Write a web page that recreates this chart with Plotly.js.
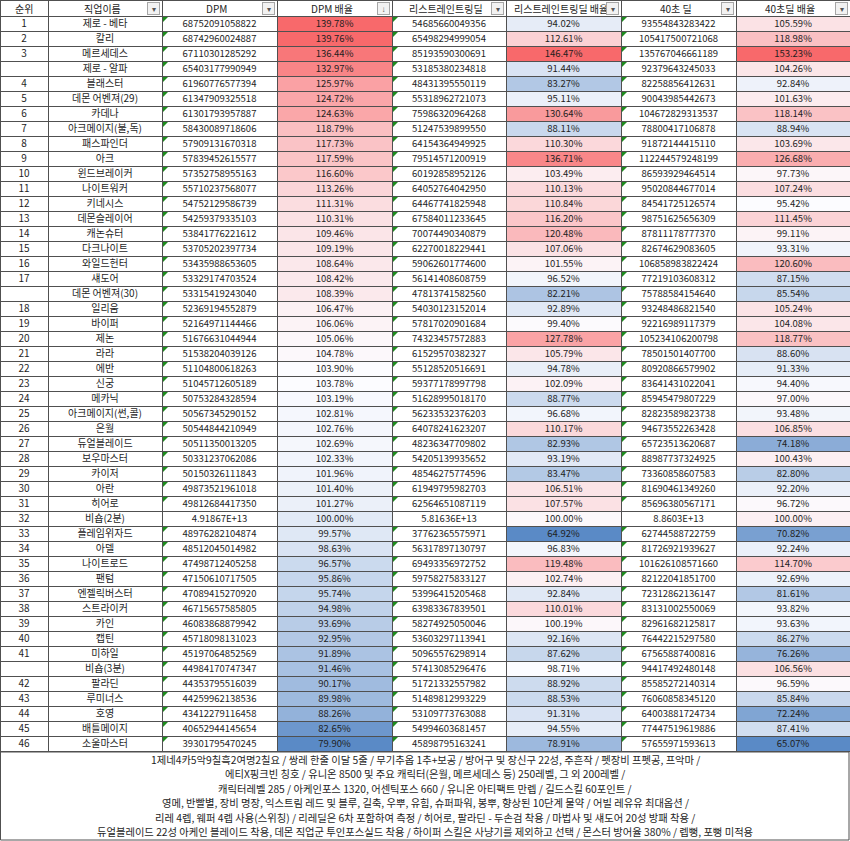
<!DOCTYPE html>
<html>
<head>
<meta charset="utf-8">
<script src="https://cdn.plot.ly/plotly-3.0.1.min.js"></script>
<style>html,body{margin:0;padding:0;background:#fff;}#chart{width:850px;height:841px;}</style>
</head>
<body>
<div id="chart"></div>
<script>
const headers = ["순위","직업이름","DPM","DPM 배율","리스트레인트링딜","리스트레인트링딜 배율","40초 딜","40초딜 배율"];
const ranks = ["1","2","3","","4","5","6","7","8","9","10","11","12","13","14","15","16","17","","18","19","20","21","22","23","24","25","26","27","28","29","30","31","32","33","34","35","36","37","38","39","40","41","","42","43","44","45","46"];
const jobs = ["제로 - 베타","칼리","메르세데스","제로 - 알파","블래스터","데몬 어벤져(29)","카데나","아크메이지(불,독)","패스파인더","아크","윈드브레이커","나이트워커","키네시스","데몬슬레이어","캐논슈터","다크나이트","와일드헌터","섀도어","데몬 어벤져(30)","일리움","바이퍼","제논","라라","에반","신궁","메카닉","아크메이지(썬,콜)","은월","듀얼블레이드","보우마스터","카이저","아란","히어로","비숍(2분)","플레임위자드","아델","나이트로드","팬텀","엔젤릭버스터","스트라이커","카인","캡틴","미하일","비숍(3분)","팔라딘","루미너스","호영","배틀메이지","소울마스터"];
const dpm = ["68752091058822","68742960024887","67110301285292","65403177990949","61960776577394","61347909325518","61301793957887","58430089718606","57909131670318","57839452615577","57352758955163","55710237568077","54752129586739","54259379335103","53841776221612","53705202397734","53435988653605","53329174703524","53315419243040","52369194552879","52164971144466","51676631044944","51538204039126","51104800618263","51045712605189","50753284328594","50567345290152","50544844210949","50511350013205","50331237062086","50150326111843","49873521961018","49812684417350","4.91867E+13","48976282104874","48512045014982","47498712405258","47150610717505","47089415270920","46715657585805","46083868879942","45718098131023","45197064852569","44984170747347","44353795516039","44259962138536","43412279116458","40652944145654","39301795470245"];
const dpmRatio = [139.78,139.76,136.44,132.97,125.97,124.72,124.63,118.79,117.73,117.59,116.60,113.26,111.31,110.31,109.46,109.19,108.64,108.42,108.39,106.47,106.06,105.06,104.78,103.90,103.78,103.19,102.81,102.76,102.69,102.33,101.96,101.40,101.27,100.00,99.57,98.63,96.57,95.86,95.74,94.98,93.69,92.95,91.89,91.46,90.17,89.98,88.26,82.65,79.90];
const restraint = ["54685660049356","65498294999054","85193590300691","53185380234818","48431395550119","55318962721073","75986320964268","51247539899550","64154364949925","79514571200919","60192858952126","64052764042950","64467741825948","67584011233645","70074490340879","62270018229441","59062601774600","56141408608759","47813741582560","54030123152014","57817020901684","74323457572883","61529570382327","55128520516691","59377178997798","51628995018170","56233532376203","64078241623207","48236347709802","54205139935652","48546275774596","61949795982703","62564651087119","5.81636E+13","37762365575971","56317897130797","69493356972752","59758275833127","53996415205468","63983367839501","58274925050046","53603297113941","50965576298914","57413085296476","51721332557982","51489812993229","53109773763088","54994603681457","45898795163241"];
const restraintRatio = [94.02,112.61,146.47,91.44,83.27,95.11,130.64,88.11,110.30,136.71,103.49,110.13,110.84,116.20,120.48,107.06,101.55,96.52,82.21,92.89,99.40,127.78,105.79,94.78,102.09,88.77,96.68,110.17,82.93,93.19,83.47,106.51,107.57,100.00,64.92,96.83,119.48,102.74,92.84,110.01,100.19,92.16,87.62,98.71,88.92,88.53,91.31,94.55,78.91];
const deal40 = ["93554843283422","105417500721068","135767046661189","92379643245033","82258856412631","90043985442673","104672829313537","78800417106878","91872144415110","112244579248199","86593929464514","95020844677014","84541725126574","98751625656309","87811178777370","82674629083605","106858983822424","77219103608312","75788584154640","93248486821540","92216989117379","105234106200798","78501501407700","80920866579902","83641431022041","85945479807229","82823589823738","94673552263428","65723513620687","88987737324925","73360858607583","81690461349260","85696380567171","8.8603E+13","62744588722759","81726921939627","101626108571660","82122041851700","72312862136147","83131002550069","82961682125817","76442215297580","67565887400816","94417492480148","85585272140314","76060858345120","64003881724734","77447519619886","57655971593613"];
const deal40Ratio = [105.59,118.98,153.23,104.26,92.84,101.63,118.14,88.94,103.69,126.68,97.73,107.24,95.42,111.45,99.11,93.31,120.60,87.15,85.54,105.24,104.08,118.77,88.60,91.33,94.40,97.00,93.48,106.85,74.18,100.43,82.80,92.20,96.72,100.00,70.82,92.24,114.70,92.69,81.61,93.82,93.63,86.27,76.26,106.56,96.59,85.84,72.24,87.41,65.07];
const footerLines = [
 "1제네4카5악9칠흑2여명2칠요 / 쌍레 한줄 이달 5줄 / 무기추옵 1추+보공 / 방어구 및 장신구 22성, 주흔작 / 펫장비 프펫공, 프악마 /",
 "에티X핑크빈 칭호 / 유니온 8500 및 주요 캐릭터(은월, 메르세데스 등) 250레벨, 그 외 200레벨 /",
 "캐릭터레벨 285 / 아케인포스 1320, 어센틱포스 660 / 유니온 아티팩트 만렙 / 길드스킬 60포인트 /",
 "영메, 반빨별, 장비 명장, 익스트림 레드 및 블루, 길축, 우뿌, 유힘, 슈퍼파워, 봉뿌, 향상된 10단계 물약 / 어빌 레유유 최대옵션 /",
 "리레 4렙, 웨퍼 4렙 사용(스위칭) / 리레딜은 6차 포함하여 측정 / 히어로, 팔라딘 - 두손검 착용 / 마법사 및 섀도어 20성 방패 착용 /",
 "듀얼블레이드 22성 아케인 블레이드 착용, 데몬 직업군 투인포스실드 착용 / 하이퍼 스킬은 사냥기를 제외하고 선택 / 몬스터 방어율 380% / 렙뻥, 포뻥 미적용"
];

// Excel-style 3-colour scale (min blue, 50th percentile white, max red)
const RED=[248,105,107], WHITE=[252,252,255], BLUE=[90,138,198];
function scaleColors(vals){
  const s=[...vals].sort((a,b)=>a-b);
  const mn=s[0], mx=s[s.length-1], md=s[(s.length-1)/2|0];
  return vals.map(v=>{
    let c;
    if(v>=md){const t=mx===md?0:(v-md)/(mx-md); c=WHITE.map((w,i)=>Math.round(w+(RED[i]-w)*t));}
    else {const t=(md-v)/(md-mn); c=WHITE.map((w,i)=>Math.round(w+(BLUE[i]-w)*t));}
    return `rgb(${c[0]},${c[1]},${c[2]})`;
  });
}
const pct = a=>a.map(v=>v.toFixed(2)+"%");
const nb = a=>a.map(s=>s.replace(/ /g,"\u00a0"));
const n = jobs.length;
const white = Array(n).fill("#ffffff");
const blank = Array(n).fill("");

const W=850, H=841, HEAD=16, ROW=15, SHIFT=4.5;
const colW=[48,114,115,115,114,115,115,114];
const FONT="Noto Sans CJK KR, sans-serif";
const gridColor="#505050";
const columnsText=[ranks,nb(jobs),dpm,pct(dpmRatio),restraint,pct(restraintRatio),deal40,pct(deal40Ratio)];
const tableH = HEAD+ROW*n+6;
const data=[
{ // grid + fills
  type:"table",
  domain:{x:[0,1],y:[1-tableH/H,1]},
  columnwidth:colW,
  header:{values:headers.map(()=>""), height:HEAD, fill:{color:"#ffffff"}, line:{color:gridColor,width:1}},
  cells:{values:columnsText.map(()=>blank), height:ROW,
    fill:{color:[white,white,white,scaleColors(dpmRatio),white,scaleColors(restraintRatio),white,scaleColors(deal40Ratio)]},
    line:{color:gridColor,width:1}}
},
{ // text layer, lifted to sit centred in each row
  type:"table",
  domain:{x:[0,1],y:[1-tableH/H,1]},
  columnwidth:colW,
  header:{values:headers.map(()=>""), height:HEAD-SHIFT, fill:{color:"rgba(0,0,0,0)"}, line:{color:"rgba(0,0,0,0)",width:0}},
  cells:{values:columnsText, align:"center", height:ROW,
    fill:{color:"rgba(0,0,0,0)"}, line:{color:"rgba(0,0,0,0)",width:0},
    font:{family:FONT,size:[10,10,9.5,9.5,9.5,9.5,9.5,9.5],color:"#1e1e1e"}}
}];

const shapes=[], annotations=[];
const px=x=>x/W, py=y=>1-y/H;
let edges=[0]; colW.forEach(w=>edges.push(edges[edges.length-1]+w));
// header labels
headers.forEach((h,c)=>{
  annotations.push({xref:"paper",yref:"paper",x:px((edges[c]+edges[c+1])/2-(c>0?3:0)),y:py(8.5),text:h.replace(/ /g,"\u00a0"),showarrow:false,
    xanchor:"center",yanchor:"middle",font:{family:FONT,size:10,color:"#1e1e1e"}});
});
// filter dropdown buttons in header
for(let c=1;c<8;c++){
  const r=edges[c+1]-2, l=r-13;
  annotations.push({xref:"paper",yref:"paper",x:px((l+r)/2),y:py(8.5),text:c===3?"↓":"▾",showarrow:false,
    width:11,height:11,bgcolor:"#f2f2f2",bordercolor:"#a6a6a6",borderwidth:1,borderpad:0,
    font:{size:8,color:"#555"},xanchor:"center",yanchor:"middle"});
}
// green "number stored as text" markers
[[2,dpm],[4,restraint],[6,deal40]].forEach(([c,src])=>{
  for(let i=0;i<n;i++){
    if(src[i].indexOf("E+")>=0) continue;
    const x0=edges[c]+1, y0=HEAD+ROW*i+1;
    shapes.push({type:"path",xref:"paper",yref:"paper",
      path:`M ${px(x0)},${py(y0)} L ${px(x0+5)},${py(y0)} L ${px(x0)},${py(y0+5)} Z`,
      fillcolor:"#1e8c1e",line:{width:0}});
  }
});
// footer box + lines
const tableBottom=HEAD+ROW*n+1;
shapes.push({type:"rect",xref:"paper",yref:"paper",x0:px(0.5),x1:px(849),y0:py(840),y1:py(tableBottom),line:{color:gridColor,width:1},fillcolor:"rgba(0,0,0,0)"});
const footerY=[759,773.5,788,802.5,817,831.5];
footerLines.forEach((t,i)=>{
  annotations.push({xref:"paper",yref:"paper",x:0.5,y:py(footerY[i]),xanchor:"center",yanchor:"middle",showarrow:false,
    text:t,font:{family:FONT,size:10.3,color:"#1e1e1e"}});
});

Plotly.newPlot("chart",data,{width:W,height:H,margin:{l:0,r:0,t:0,b:0},paper_bgcolor:"#fff",shapes,annotations},{displayModeBar:false,staticPlot:true});
</script>
</body>
</html>
